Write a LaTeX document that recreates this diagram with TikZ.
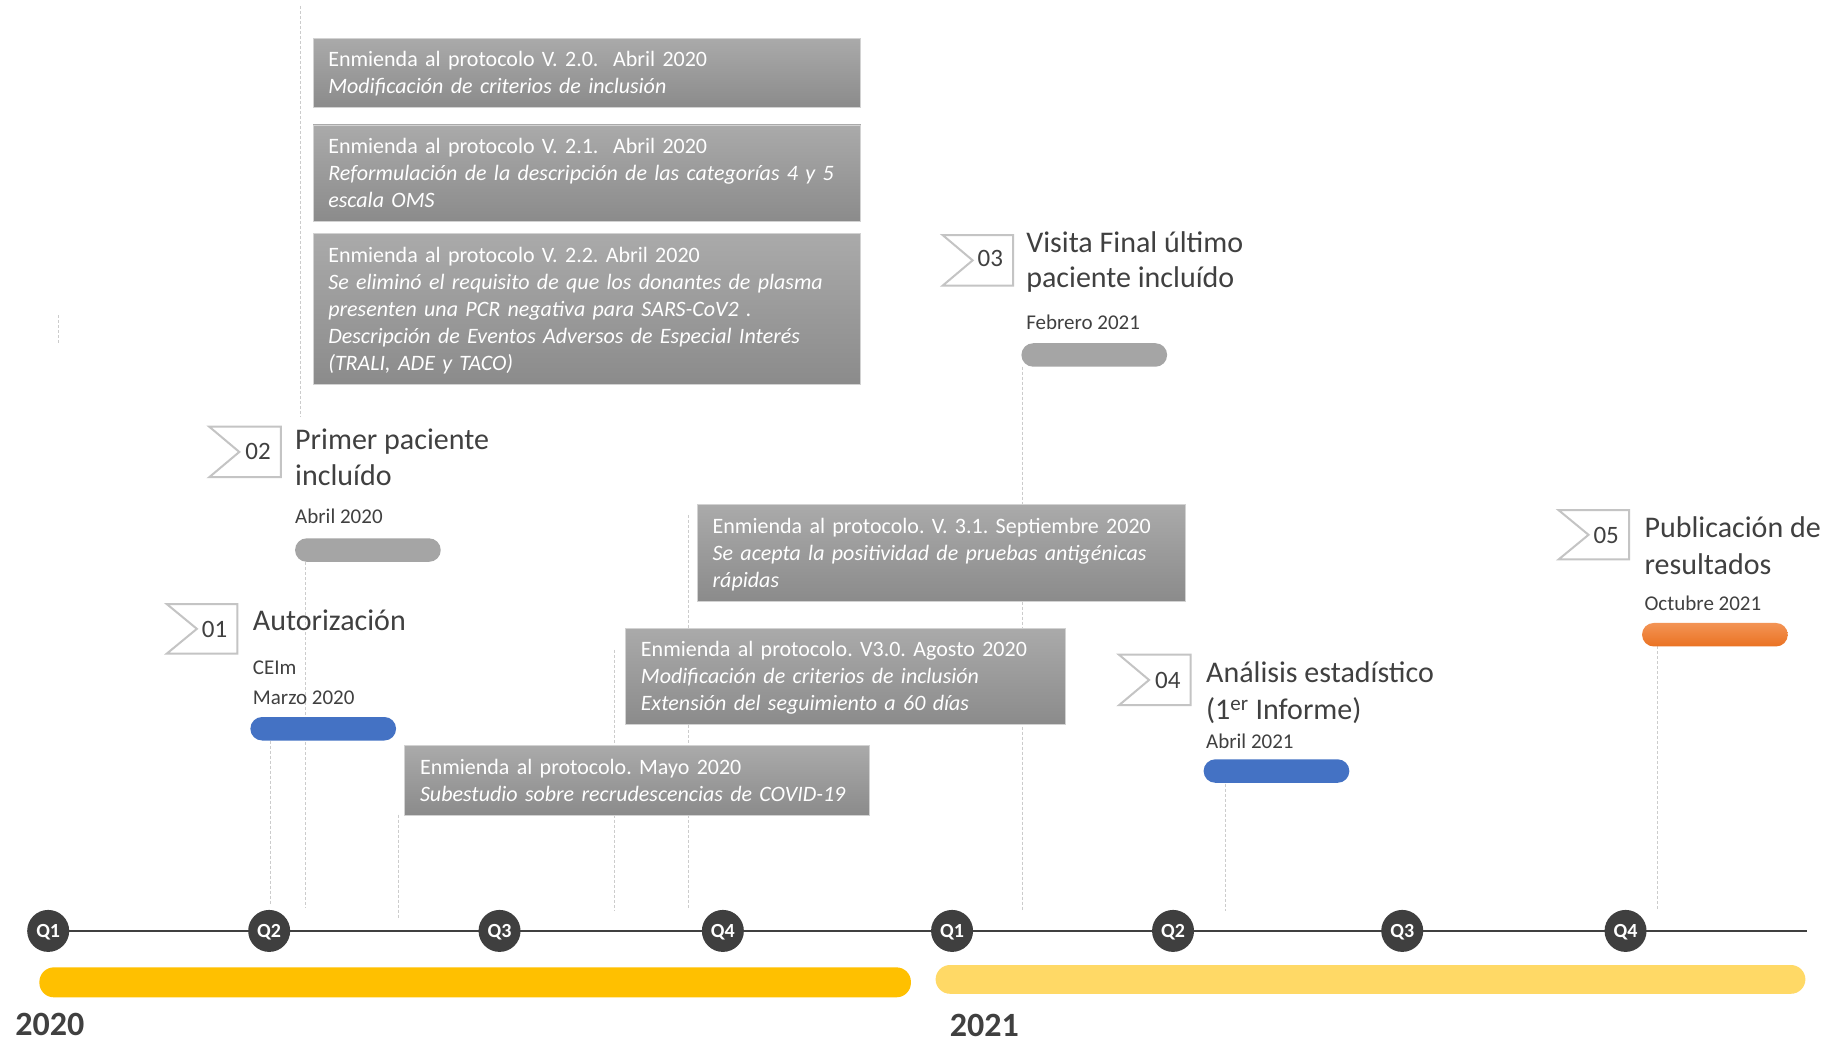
\documentclass[tikz,border=0pt]{standalone}
\usepackage{fontspec}
\setmainfont{Carlito}
\frenchspacing
\definecolor{txt}{HTML}{404040}
\definecolor{qgray}{HTML}{3F3F3F}
\definecolor{flagc}{HTML}{C4C4C4}
\definecolor{dashc}{HTML}{CCCCCC}
\definecolor{boxtop}{HTML}{AAAAAA}
\definecolor{boxbot}{HTML}{8B8B8B}
\definecolor{boxedge}{HTML}{D2D2D2}
\definecolor{yelA}{HTML}{FFC000}
\definecolor{yelB}{HTML}{FFD966}
\definecolor{bbar}{HTML}{4472C4}
\definecolor{gbar}{HTML}{A5A5A5}
\definecolor{otop}{HTML}{F39455}
\definecolor{obot}{HTML}{EA7222}
\newcommand{\topstrut}{\rule{0pt}{22.6pt}}
\begin{document}
\begin{tikzpicture}[x=1.1754pt,y=-1.1754pt,
  dl/.style={draw=dashc, line width=0.9pt, dash pattern=on 3pt off 2pt},
  flag/.style={draw=flagc, line width=2pt, line join=miter},
  gbox/.style={draw=boxedge, line width=0.8pt, top color=boxtop, bottom color=boxbot,
    text=white, anchor=north west, inner xsep=15.28pt, inner ysep=0pt, align=left,
    font=\fontsize{22}{27}\selectfont\frenchspacing},
  ttl/.style={anchor=west, inner sep=0pt, text=txt, font=\fontsize{30}{36}\selectfont,
    text height=19.3pt, text depth=0pt},
  dat/.style={anchor=west, inner sep=0pt, text=txt, font=\fontsize{21}{25}\selectfont,
    text height=13.5pt, text depth=0pt},
  num/.style={anchor=center, inner sep=0pt, text=txt, font=\fontsize{25}{30}\selectfont,
    text height=16pt, text depth=0pt},
  bar/.style={minimum width=145.7pt, minimum height=23.5pt, rounded corners=11.7pt, inner sep=0pt},
  qn/.style={circle, fill=qgray, minimum size=42pt, inner sep=0pt, text=white,
    font=\bfseries\fontsize{20}{24}\selectfont, text height=12.9pt, text depth=0pt},
  yr/.style={anchor=west, inner sep=0pt, text=txt, font=\bfseries\fontsize{34}{40}\selectfont,
    text height=21.5pt, text depth=0pt}
]
\useasboundingbox[fill=white] (0,0) rectangle (1568,888);

% dashed guide lines
\draw[dl] (256,5) -- (256,355);
\draw[dl] (50,268) -- (50,293);
\draw[dl] (230,630) -- (230,770);
\draw[dl] (260,478) -- (260,772);
\draw[dl] (339,693) -- (339,782);
\draw[dl] (523,553) -- (523,775);
\draw[dl] (586,438) -- (586,774);
\draw[dl] (870,312) -- (870,775);
\draw[dl] (1043,667) -- (1043,775);
\draw[dl] (1410,550) -- (1410,775);

% amendment boxes
\node[gbox, text width=517.2pt, minimum height=69.35pt] (bA) at (266,32)
 {\topstrut Enmienda al protocolo V. 2.0.\ \ Abril 2020\\\textit{Modificación de criterios de inclusión}\strut};
\node[gbox, text width=517.2pt, minimum height=96.4pt] (bB) at (266,106)
 {\topstrut Enmienda al protocolo V. 2.1.\ \ Abril 2020\\\textit{Reformulación de la descripción de las categorías 4 y 5}\\\textit{escala OMS}\strut};
\node[gbox, text width=517.2pt, minimum height=151.6pt] (bC) at (266,198)
 {\topstrut Enmienda al protocolo V. 2.2. Abril 2020\\\textit{Se eliminó el requisito de que los donantes de plasma}\\\textit{presenten una PCR negativa para SARS-CoV2 .}\\\textit{Descripción de Eventos Adversos de Especial Interés}\\\textit{(TRALI, ADE y TACO)}\strut};
\node[gbox, text width=457.2pt, minimum height=96.4pt] (bD) at (593,429)
 {\topstrut Enmienda al protocolo. V. 3.1. Septiembre 2020\\\textit{Se acepta la positividad de pruebas antigénicas}\\\textit{rápidas}\strut};
\node[gbox, text width=409.0pt, minimum height=96.4pt] (bE) at (532,534)
 {\topstrut Enmienda al protocolo. V3.0. Agosto 2020\\\textit{Modificación de criterios de inclusión}\\\textit{Extensión del seguimiento a 60 días}\strut};
\node[gbox, text width=433.7pt, minimum height=69.35pt] (bF) at (344,634)
 {\topstrut Enmienda al protocolo. Mayo 2020\\\textit{Subestudio sobre recrudescencias de COVID-19}\strut};

% event 01
\draw[flag] (142,514) -- (202,514) -- (202,556) -- (142,556) -- (167.5,535) -- cycle;
\node[num] (n01) at (182.5,535.5) {01};
\node[ttl] (t01) at (215,528.5) {Autorización};
\node[dat] (d01a) at (215,568) {CEIm};
\node[dat] (d01b) at (215,594) {Marzo 2020};
\node[bar, fill=bbar] (r01) at (275,620) {};

% event 02
\draw[flag] (178,363) -- (239,363) -- (239,406) -- (178,406) -- (203.6,384.5) -- cycle;
\node[num] (n02) at (219.5,384) {02};
\node[ttl] (t02a) at (251,374.5) {Primer paciente};
\node[ttl] (t02b) at (251,404.5) {incluído};
\node[dat] (d02) at (251,440) {Abril 2020};
\node[bar, fill=gbar] (r02) at (313,468) {};

% event 03
\draw[flag] (802,200) -- (862,200) -- (862,243) -- (802,243) -- (827.5,221.5) -- cycle;
\node[num] (n03) at (842.5,220) {03};
\node[ttl] (t03a) at (873,206.5) {Visita Final último};
\node[ttl] (t03b) at (873,236.5) {paciente incluído};
\node[dat] (d03) at (873,275) {Febrero 2021};
\node[bar, fill=gbar] (r03) at (931,302) {};

% event 04
\draw[flag] (952,557) -- (1013,557) -- (1013,600) -- (952,600) -- (977.6,578.5) -- cycle;
\node[num] (n04) at (993.5,579) {04};
\node[ttl] (t04a) at (1026,572.5) {Análisis estadístico};
\node[ttl] (t04b) at (1026,604) {(1\textsuperscript{er} Informe)};
\node[dat] (d04) at (1026,631) {Abril 2021};
\node[bar, fill=bbar] (r04) at (1086,656) {};

% event 05
\draw[flag] (1326,434) -- (1386,434) -- (1386,476) -- (1326,476) -- (1351.5,455) -- cycle;
\node[num] (n05) at (1366.5,456) {05};
\node[ttl] (t05a) at (1399,449.5) {Publicación de};
\node[ttl] (t05b) at (1399,480.5) {resultados};
\node[dat] (d05) at (1399,514) {Octubre 2021};
\node[bar, top color=otop, bottom color=obot] (r05) at (1459,540) {};

% year bars
\fill[yelA, rounded corners=14.5pt] (33.5,823) rectangle (775,848.5);
\fill[yelB, rounded corners=14.5pt] (796,821) rectangle (1536,845.5);

% timeline
\coordinate (tlend) at (1537,792);
\coordinate (tlstart) at (41,792);
\draw[draw=txt, line width=2.5pt] (tlstart) -- (tlend);
\node[qn] (q1) at (41,792) {Q1};
\node[qn] (q2) at (229,792) {Q2};
\node[qn] (q3) at (425,792) {Q3};
\node[qn] (q4) at (615,792) {Q4};
\node[qn] (p1) at (810,792) {Q1};
\node[qn] (p2) at (998,792) {Q2};
\node[qn] (p3) at (1193,792) {Q3};
\node[qn] (p4) at (1383,792) {Q4};

\node[yr] (y2020) at (13,872) {2020};
\node[yr] (y2021) at (808,873) {2021};
\end{tikzpicture}
\end{document}
